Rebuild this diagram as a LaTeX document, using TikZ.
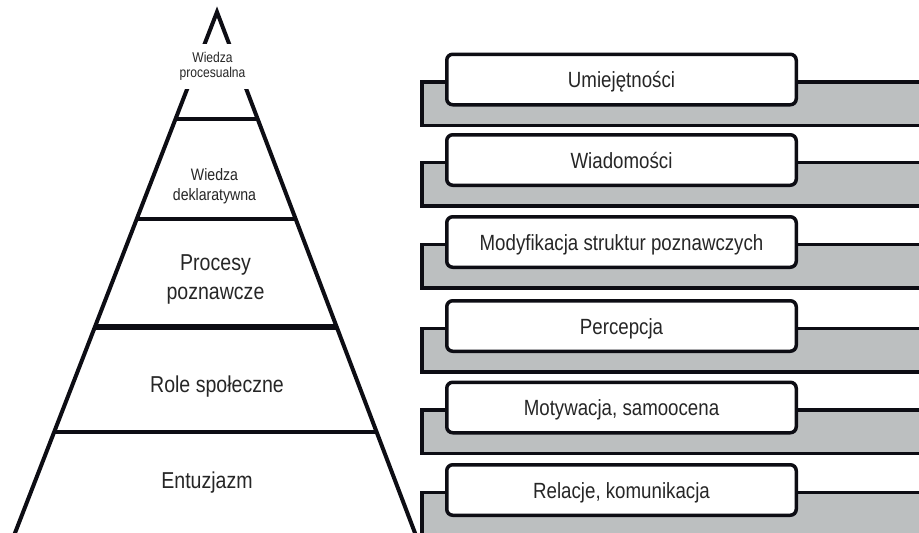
\documentclass[tikz,border=0pt]{standalone}
\usepackage{fontspec}
\setmainfont{Liberation Sans}[FakeStretch=0.85]
\usetikzlibrary{calc}
\definecolor{bandgray}{HTML}{BCBFC0}
\definecolor{ink}{HTML}{0D0D14}
\definecolor{txt}{HTML}{262626}

\begin{document}
\begin{tikzpicture}[x=1pt,y=-1pt,
  edge/.style={line width=4pt, draw=ink},
  tier/.style={text=txt, align=center, inner sep=0pt},
  item/.style={draw=ink, fill=white, line width=3.5pt, rounded corners=6pt,
    minimum width=349.5pt, minimum height=50.5pt, inner sep=0pt,
    text=txt, font=\fontsize{22}{26}\selectfont, text height=16pt, text depth=0pt},
  bandbox/.style={fill=bandgray, draw=ink, line width=3.5pt}]
\useasboundingbox (0,0) rectangle (919,533);
\clip (0,0) rectangle (919,533);
\fill[white] (0,0) rectangle (919,533);

% pyramid outline
\coordinate (apex) at (217,12);
\coordinate (bl) at (15,533);
\coordinate (br) at (415,533);
\draw[edge, line join=miter] ($(apex)!1.05!(bl)$) -- (apex) -- ($(apex)!1.05!(br)$);

% tier separators
\foreach \y/\w in {119/4pt, 219/4pt, 327/6pt, 432/4pt}{
  \draw[ink, line width=\w] ($(apex)!{(\y-12)/521}!(bl)$) -- ($(apex)!{(\y-12)/521}!(br)$);
}

% tier labels
\node[tier, fill=white, minimum width=75pt, minimum height=45pt,
  font=\fontsize{14.2}{15}\selectfont] (wp) at (212.5,66) {Wiedza\\procesualna};
\node[tier, font=\fontsize{16.6}{20}\selectfont] (wd) at (214.5,186) {Wiedza\\deklaratywna};
\node[tier, font=\fontsize{23}{29}\selectfont] (pp) at (215.5,279) {Procesy\\poznawcze};
\node[tier, font=\fontsize{23}{29}\selectfont] (rs) at (217,387) {Role społeczne};
\node[tier, font=\fontsize{23}{29}\selectfont] (en) at (207,483) {Entuzjazm};

% right column: gray bands with labelled boxes
\foreach \c/\name/\label in {
  79.5/um/Umiejętności,
  160/wi/Wiadomości,
  242/mo/Modyfikacja struktur poznawczych,
  326/pe/Percepcja,
  407.5/mt/{Motywacja, samoocena},
  490/rk/{Relacje, komunikacja}}{
  \draw[bandbox] (422,\c+2.5) rectangle (940,\c+46);
  \node[item] (\name) at (621.5,\c) {\label};
}
\end{tikzpicture}
\end{document}
